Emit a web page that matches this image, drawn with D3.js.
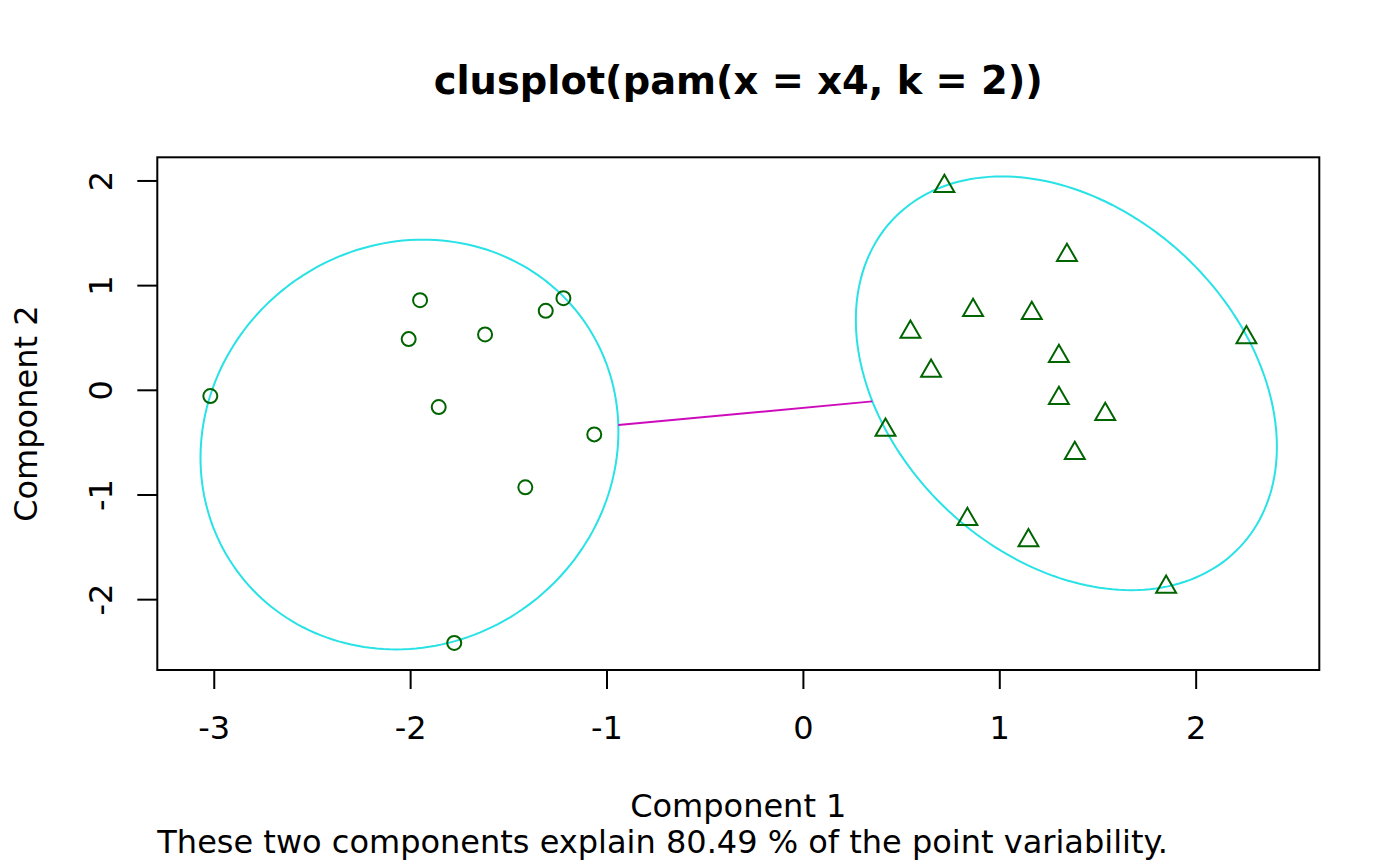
<!DOCTYPE html>
<html lang="en">
<head>
<meta charset="utf-8">
<title>clusplot</title>
<script src="https://d3js.org/d3.v7.min.js"></script>
<style>
  body { margin: 0; background: #fff; }
  svg text { font-family: "DejaVu Sans", sans-serif; fill: #000; }
  .axis-line { stroke: #000; stroke-width: 2; }
</style>
</head>
<body>
<script>
// component scores, cluster 1 (circles) and cluster 2 (triangles)
var clus1X = [-3.020, -1.952, -2.010, -1.621, -1.312, -1.222, -1.857, -1.065, -1.416, -1.778];
var clus1Y = [-0.055, 0.861, 0.489, 0.534, 0.759, 0.880, -0.160, -0.421, -0.927, -2.413];
var clus2X = [0.718, 1.342, 0.864, 1.163, 0.545, 2.256, 1.301, 0.650, 1.301, 1.537, 0.418, 1.382, 0.835, 1.146, 1.847];
var clus2Y = [1.950, 1.291, 0.766, 0.735, 0.556, 0.505, 0.325, 0.184, -0.076, -0.229, -0.379, -0.601, -1.233, -1.436, -1.880];

// ellipses: x = cx + a cos t ; y = cy + c cos t + b sin t
var ellCx = [-2.006, 1.339];
var ellCy = [-0.518, 0.067];
var ellA  = [1.064, 1.072];
var ellB  = [1.953, 1.881];
var ellC  = [0.127, -0.606];

var xTicks = [-3, -2, -1, 0, 1, 2];
var yTicks = [-2, -1, 0, 1, 2];

var titleText = "clusplot(pam(x = x4, k = 2))";
var xLabel = "Component 1";
var yLabel = "Component 2";
var subText = "These two components explain 80.49 % of the point variability.";

var width = 1400, height = 866;
var margin = {top: 157.3, right: 80.7, bottom: 196, left: 157.3};
var fs = 32;

var svg = d3.select("body").append("svg")
    .attr("width", width)
    .attr("height", height);

var x = d3.scaleLinear()
    .domain([-3.290, 2.627])
    .range([margin.left, width - margin.right]);
var y = d3.scaleLinear()
    .domain([-2.672, 2.226])
    .range([height - margin.bottom, margin.top]);

var plotMidX = (margin.left + width - margin.right) / 2;
var plotMidY = (margin.top + height - margin.bottom) / 2;

// ellipses
var ellLine = d3.line().x(function(d){ return x(d[0]); }).y(function(d){ return y(d[1]); });
var ts = d3.range(0, 201).map(function(i){ return i / 200 * 2 * Math.PI; });

svg.append("g").selectAll("path")
    .data(ellCx)
    .enter()
    .append("path")
    .attr("fill", "none")
    .attr("stroke", "#28E2E5")
    .attr("stroke-width", 2)
    .attr("d", function(cx, i){
        return ellLine(ts.map(function(t){
            return [cx + ellA[i] * Math.cos(t), ellCy[i] + ellC[i] * Math.cos(t) + ellB[i] * Math.sin(t)];
        }));
    });

// segment between the two ellipses along the line joining the centers
function exitS(i, dx, dy) {
    var u = dx / ellA[i];
    var v = (dy - ellC[i] * u) / ellB[i];
    return 1 / Math.sqrt(u * u + v * v);
}
var dx = ellCx[1] - ellCx[0], dy = ellCy[1] - ellCy[0];
var s0 = exitS(0, dx, dy), s1 = 1 - exitS(1, -dx, -dy);
svg.append("line")
    .attr("x1", x(ellCx[0] + s0 * dx)).attr("y1", y(ellCy[0] + s0 * dy))
    .attr("x2", x(ellCx[0] + s1 * dx)).attr("y2", y(ellCy[0] + s1 * dy))
    .attr("stroke", "#CD0BBC")
    .attr("stroke-width", 2);

// points
svg.append("g").selectAll("circle")
    .data(clus1X)
    .enter()
    .append("circle")
    .attr("cx", function(d){ return x(d); })
    .attr("cy", function(d, i){ return y(clus1Y[i]); })
    .attr("r", 7)
    .attr("fill", "none")
    .attr("stroke", "#006400")
    .attr("stroke-width", 2);

var tr = 11.5;
svg.append("g").selectAll("path")
    .data(clus2X)
    .enter()
    .append("path")
    .attr("transform", function(d, i){ return "translate(" + x(d) + "," + y(clus2Y[i]) + ")"; })
    .attr("d", "M0," + (-tr) + "L" + (tr * Math.sqrt(3) / 2) + "," + (tr / 2) + "L" + (-tr * Math.sqrt(3) / 2) + "," + (tr / 2) + "Z")
    .attr("fill", "none")
    .attr("stroke", "#006400")
    .attr("stroke-width", 2);

// box
svg.append("rect")
    .attr("x", margin.left)
    .attr("y", margin.top)
    .attr("width", width - margin.left - margin.right)
    .attr("height", height - margin.top - margin.bottom)
    .attr("fill", "none")
    .attr("class", "axis-line");

// x axis
var xb = height - margin.bottom;
var xg = svg.append("g");
xg.selectAll("line")
    .data(xTicks).enter().append("line")
    .attr("class", "axis-line")
    .attr("x1", x).attr("x2", x)
    .attr("y1", xb).attr("y2", xb + 19);
xg.selectAll("text")
    .data(xTicks).enter().append("text")
    .attr("x", x)
    .attr("y", 739)
    .attr("text-anchor", "middle")
    .attr("font-size", fs)
    .text(function(d){ return d; });

// y axis
var yg = svg.append("g");
yg.selectAll("line")
    .data(yTicks).enter().append("line")
    .attr("class", "axis-line")
    .attr("y1", y).attr("y2", y)
    .attr("x1", margin.left).attr("x2", margin.left - 20);
yg.selectAll("text")
    .data(yTicks).enter().append("text")
    .attr("transform", function(d){ return "translate(112," + y(d) + ") rotate(-90)"; })
    .attr("text-anchor", "middle")
    .attr("font-size", fs)
    .text(function(d){ return d; });

// titles
svg.append("text")
    .attr("x", plotMidX).attr("y", 94)
    .attr("text-anchor", "middle")
    .attr("font-size", fs * 1.2)
    .attr("font-weight", "bold")
    .text(titleText);
svg.append("text")
    .attr("x", plotMidX).attr("y", 817)
    .attr("text-anchor", "middle")
    .attr("font-size", fs)
    .text(xLabel);
svg.append("text")
    .attr("x", margin.left).attr("y", 853)
    .attr("text-anchor", "start")
    .attr("font-size", fs)
    .text(subText);
svg.append("text")
    .attr("transform", "translate(37," + plotMidY + ") rotate(-90)")
    .attr("text-anchor", "middle")
    .attr("font-size", fs)
    .text(yLabel);
</script>
</body>
</html>
